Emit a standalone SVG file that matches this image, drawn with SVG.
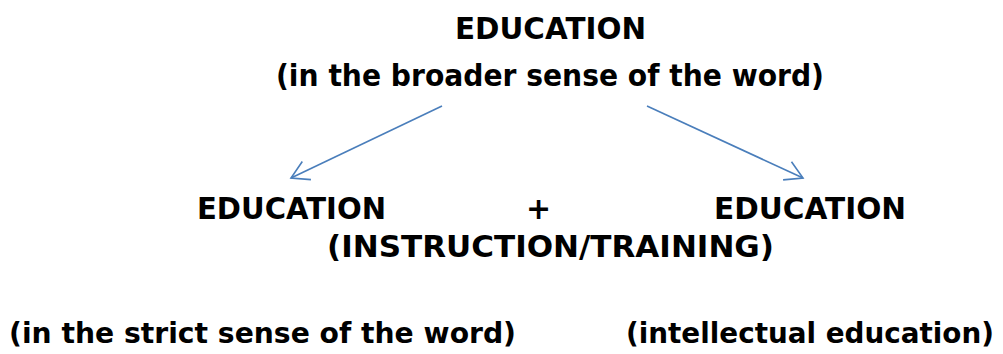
<svg xmlns="http://www.w3.org/2000/svg" width="1003" height="354" viewBox="0 0 1003 354">
<style>
text{font-family:"DejaVu Sans","Liberation Sans",sans-serif;font-weight:bold;font-size:30px;fill:#000;text-anchor:middle}
.b{font-size:29px}
.s{text-anchor:start}
.e{text-anchor:end}
.c{stroke:#4a7ebb;stroke-width:1.6;fill:none}
</style>
<defs>
<marker id="ah" markerUnits="userSpaceOnUse" viewBox="-20 -12 22 24" markerWidth="22" markerHeight="24" refX="0" refY="0" orient="auto" overflow="visible">
<path d="M-17.3,-10 L0,0 L-17.3,10" fill="none" stroke="#4a7ebb" stroke-width="1.6"/>
</marker>
</defs>
<rect width="1003" height="354" fill="#fff"/>
<g id="top">
<text x="550.5" y="39" textLength="191" lengthAdjust="spacingAndGlyphs">EDUCATION</text>
<text x="550" y="86" textLength="548" lengthAdjust="spacingAndGlyphs">(in the broader sense of the word)</text>
</g>
<g id="connectors">
<line class="c" x1="442" y1="106" x2="291" y2="178" marker-end="url(#ah)"/>
<line class="c" x1="647" y1="106" x2="803" y2="178" marker-end="url(#ah)"/>
</g>
<g id="left">
<text x="291.5" y="219" textLength="189" lengthAdjust="spacingAndGlyphs">EDUCATION</text>
<text class="b s" x="9" y="343" textLength="507" lengthAdjust="spacingAndGlyphs">(in the strict sense of the word)</text>
</g>
<g id="plus">
<text x="538.5" y="219">+</text>
</g>
<g id="middle">
<text x="550.5" y="257" textLength="447" lengthAdjust="spacingAndGlyphs">(INSTRUCTION/TRAINING)</text>
</g>
<g id="right">
<text x="810" y="219" textLength="192" lengthAdjust="spacingAndGlyphs">EDUCATION</text>
<text class="b e" x="994" y="343" textLength="368" lengthAdjust="spacingAndGlyphs">(intellectual education)</text>
</g>
</svg>
